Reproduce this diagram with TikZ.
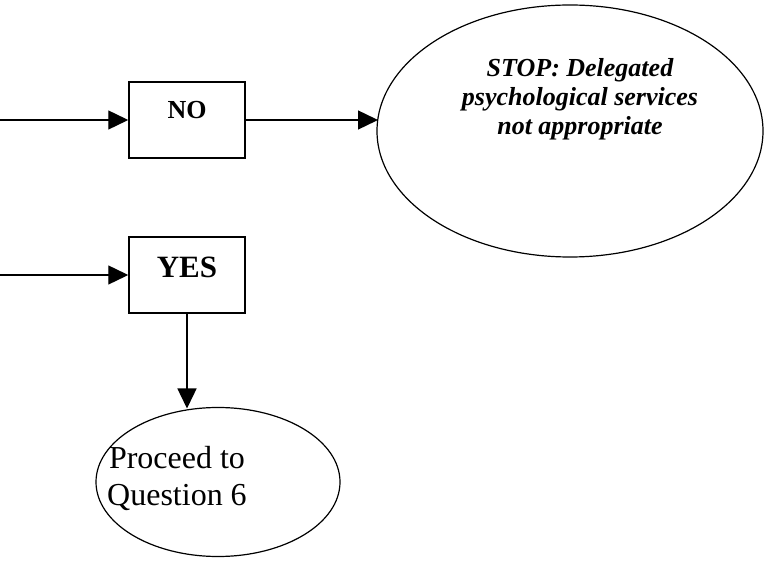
\documentclass[tikz,border=0pt]{standalone}
\usepackage{fontspec}
\setmainfont{Liberation Serif}
\usetikzlibrary{shapes.geometric,arrows.meta}
\begin{document}
\begin{tikzpicture}[x=1pt,y=-1pt,
  conn/.style={line width=1.4pt,-{Triangle[length=20pt,width=19pt]}},
  boxnode/.style={draw,line width=1.5pt,rectangle,minimum width=116pt,minimum height=76pt,inner sep=0pt},
  ovalnode/.style={draw,line width=1.2pt,ellipse,inner sep=0pt},
  lbl/.style={inner sep=0pt,align=center}]
\useasboundingbox (0,0) rectangle (769,561);
\node[boxnode] (no) at (187,120) {};
\node[lbl,font=\fontsize{26}{30}\selectfont\bfseries] (notext) at (187,110) {NO};
\node[boxnode] (yes) at (187,275) {};
\node[lbl,font=\fontsize{31}{36}\selectfont\bfseries] (yestext) at (187,267) {YES};
\node[ovalnode,minimum width=386pt,minimum height=252pt] (stop) at (570,131) {};
\node[lbl,font=\fontsize{26}{29}\selectfont\bfseries\itshape] (stoptext) at (580,99) {STOP: Delegated\\psychological services\\not appropriate};
\node[ovalnode,minimum width=244pt,minimum height=149pt] (proceed) at (218,482) {};
\node[lbl,font=\fontsize{32}{37}\selectfont] (proceedtext) at (177,478) {Proceed to\\Question 6};
\coordinate (startno) at (0,120);
\coordinate (startyes) at (0,275);
\coordinate (stopin) at (378,120);
\coordinate (proceedtop) at (187,408.5);
\draw[conn] (startno) -- (no.west);
\draw[conn] (startyes) -- (yes.west);
\draw[conn] (no.east) -- (stopin);
\draw[conn] (yes.south) -- (proceedtop);
\end{tikzpicture}
\end{document}
